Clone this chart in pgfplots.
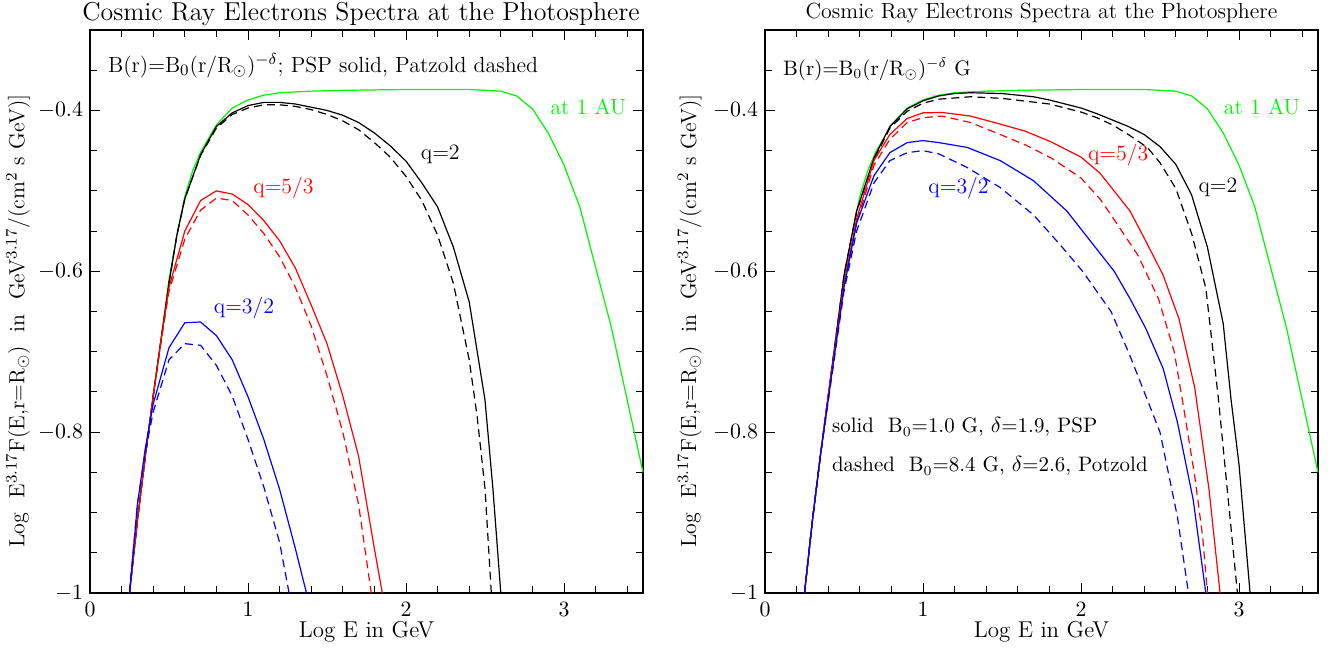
\documentclass[border=0pt]{standalone}
\usepackage{fontspec}
\usepackage{pgfplots}
\pgfplotsset{compat=1.18}
\definecolor{cgreen}{RGB}{0,245,0}
\definecolor{cred}{RGB}{255,0,0}
\definecolor{cblue}{RGB}{0,0,255}
\newcommand{\fs}[1]{\fontsize{#1}{#1}\selectfont}
\pgfplotsset{
  panel/.style={
    scale only axis, width=276.5bp, height=281.5bp,
    anchor=south west,
    xmin=0, xmax=3.5, ymin=-1, ymax=-0.3,
    xtick={0,1,2,3}, ytick={-1,-0.8,-0.6,-0.4},
    minor xtick={0,0.2,...,3.4},
    minor ytick={-1,-0.95,...,-0.3},
    tick align=inside, major tick length=5bp, minor tick length=3.5bp,
    every tick/.style={black, line width=0.5bp},
    axis line style={line width=0.9bp},
    tick label style={font=\fs{10.5}},
    xticklabel style={yshift=-1bp},
    xlabel={Log E in GeV},
    xlabel style={font=\fs{11.5}, at={(axis description cs:0.5,-0.069)}, anchor=center},
    ylabel style={font=\fs{11}, at={(axis description cs:-0.13,0.483)}, anchor=center, rotate=0},
    clip=false,
  },
  sol/.style={line width=0.6bp},
  das/.style={line width=0.6bp, dash pattern=on 4bp off 2.5bp},
}
\newcommand{\ylab}{Log\ \ E$^{3.17}$F(E,r=R$_\odot$)\ \ in\ \ GeV$^{3.17}$/(cm$^2$\ s\ GeV)]}
\newcommand{\green}{\addplot[cgreen, sol] coordinates {
 (0.25,-1)(0.3,-0.91)(0.35,-0.83)(0.4,-0.755)(0.45,-0.683)(0.5,-0.61)(0.55,-0.555)
 (0.6,-0.507)(0.65,-0.475)(0.7,-0.452)(0.8,-0.418)(0.9,-0.397)(1.0,-0.387)(1.1,-0.381)
 (1.2,-0.378)(1.4,-0.376)(1.6,-0.375)(2.0,-0.374)(2.4,-0.374)(2.6,-0.376)(2.7,-0.382)
 (2.8,-0.398)(2.9,-0.428)(3.0,-0.468)(3.1,-0.52)(3.2,-0.595)(3.3,-0.67)(3.4,-0.76)(3.5,-0.85)};}

\begin{document}
\begin{tikzpicture}
\useasboundingbox (0,0) rectangle (669bp,325bp);

% ---------------- left panel
\begin{axis}[panel, at={(45bp,28.5bp)}, ylabel={\ylab}]
\green
% q=2
\addplot[black, sol] coordinates {
 (0.25,-1)(0.3,-0.91)(0.35,-0.83)(0.4,-0.755)(0.45,-0.685)(0.5,-0.615)(0.55,-0.555)
 (0.6,-0.51)(0.7,-0.455)(0.8,-0.42)(0.9,-0.403)(1.0,-0.394)(1.1,-0.39)(1.2,-0.39)
 (1.3,-0.392)(1.4,-0.396)(1.5,-0.40)(1.6,-0.406)(1.7,-0.415)(1.8,-0.428)(1.9,-0.444)
 (2.0,-0.463)(2.1,-0.49)(2.2,-0.52)(2.3,-0.57)(2.4,-0.638)(2.5,-0.76)(2.55,-0.87)(2.6,-1.0)};
\addplot[black, das] coordinates {
 (0.25,-1)(0.3,-0.91)(0.35,-0.83)(0.4,-0.755)(0.45,-0.685)(0.5,-0.615)(0.55,-0.555)
 (0.6,-0.51)(0.7,-0.456)(0.8,-0.422)(0.9,-0.405)(1.0,-0.397)(1.1,-0.393)(1.2,-0.393)
 (1.3,-0.395)(1.4,-0.399)(1.5,-0.405)(1.6,-0.413)(1.7,-0.424)(1.8,-0.44)(1.9,-0.458)
 (2.0,-0.482)(2.1,-0.512)(2.2,-0.555)(2.3,-0.615)(2.4,-0.71)(2.45,-0.78)(2.5,-0.87)(2.54,-1.0)};
% q=5/3
\addplot[cred, sol] coordinates {
 (0.25,-1)(0.3,-0.91)(0.35,-0.83)(0.4,-0.755)(0.45,-0.685)(0.5,-0.62)(0.6,-0.55)
 (0.7,-0.512)(0.8,-0.50)(0.9,-0.504)(1.0,-0.517)(1.1,-0.537)(1.2,-0.562)(1.3,-0.596)
 (1.4,-0.642)(1.5,-0.69)(1.6,-0.755)(1.7,-0.83)(1.8,-0.945)(1.85,-1.0)};
\addplot[cred, das] coordinates {
 (0.25,-1)(0.3,-0.91)(0.35,-0.83)(0.4,-0.755)(0.45,-0.687)(0.5,-0.625)(0.6,-0.56)
 (0.7,-0.524)(0.8,-0.509)(0.9,-0.512)(1.0,-0.53)(1.1,-0.553)(1.2,-0.582)(1.3,-0.62)
 (1.4,-0.668)(1.5,-0.73)(1.6,-0.80)(1.7,-0.89)(1.78,-1.0)};
% q=3/2
\addplot[cblue, sol] coordinates {
 (0.25,-1)(0.3,-0.89)(0.35,-0.82)(0.4,-0.765)(0.5,-0.695)(0.6,-0.664)(0.7,-0.663)
 (0.8,-0.68)(0.9,-0.71)(1.0,-0.756)(1.1,-0.809)(1.2,-0.871)(1.3,-0.945)(1.37,-1.0)};
\addplot[cblue, das] coordinates {
 (0.25,-1)(0.3,-0.89)(0.35,-0.825)(0.4,-0.775)(0.5,-0.71)(0.6,-0.69)(0.7,-0.692)
 (0.8,-0.717)(0.9,-0.755)(1.0,-0.809)(1.1,-0.868)(1.2,-0.937)(1.26,-1.0)};

\node[anchor=base, inner sep=0pt, font=\fs{13}] at ([yshift=5bp]axis description cs:0.49,1)
  {Cosmic Ray Electrons Spectra at the Photosphere};
\node[anchor=west, font=\fs{11}] at (axis cs:0.07,-0.344)
  {B(r)=B$_0$(r/R$_\odot$)$^{-\delta}$; PSP solid, Patzold dashed};
\node[anchor=west, font=\fs{11}, text=cgreen] at (axis cs:2.87,-0.396) {at 1 AU};
\node[anchor=west, font=\fs{11}] at (axis cs:2.05,-0.455) {q=2};
\node[anchor=west, font=\fs{11}, text=cred] at (axis cs:0.99,-0.496) {q=5/3};
\node[anchor=west, font=\fs{11}, text=cblue] at (axis cs:0.74,-0.646) {q=3/2};
\end{axis}

% ---------------- right panel
\begin{axis}[panel, at={(382.5bp,28.5bp)},
  ylabel style={at={(axis description cs:-0.136,0.483)}},
  ylabel={\ylab}]
\green
% q=2
\addplot[black, sol] coordinates {
 (0.25,-1)(0.3,-0.91)(0.35,-0.83)(0.4,-0.755)(0.45,-0.68)(0.5,-0.605)(0.58,-0.525)
 (0.69,-0.459)(0.79,-0.42)(0.9,-0.398)(1.0,-0.388)(1.1,-0.382)(1.2,-0.379)(1.3,-0.378)
 (1.5,-0.379)(1.7,-0.383)(1.8,-0.387)(2.0,-0.397)(2.1,-0.404)(2.2,-0.412)(2.3,-0.42)
 (2.4,-0.43)(2.5,-0.445)(2.6,-0.467)(2.7,-0.505)(2.8,-0.57)(2.9,-0.665)(2.95,-0.76)
 (3.0,-0.84)(3.07,-1.0)};
\addplot[black, das] coordinates {
 (0.25,-1)(0.3,-0.91)(0.35,-0.83)(0.4,-0.755)(0.45,-0.68)(0.5,-0.605)(0.58,-0.526)
 (0.69,-0.461)(0.79,-0.422)(0.9,-0.401)(1.0,-0.391)(1.1,-0.386)(1.3,-0.383)(1.5,-0.385)
 (1.8,-0.392)(2.0,-0.402)(2.1,-0.409)(2.2,-0.418)(2.3,-0.43)(2.42,-0.446)(2.5,-0.465)
 (2.6,-0.497)(2.7,-0.553)(2.79,-0.621)(2.87,-0.759)(2.93,-0.88)(2.99,-1.0)};
% q=5/3
\addplot[cred, sol] coordinates {
 (0.25,-1)(0.3,-0.91)(0.35,-0.83)(0.4,-0.755)(0.45,-0.685)(0.5,-0.615)(0.58,-0.535)
 (0.69,-0.462)(0.79,-0.43)(0.9,-0.41)(1.0,-0.403)(1.12,-0.4025)(1.3,-0.407)(1.49,-0.417)
 (1.65,-0.426)(1.81,-0.439)(2.0,-0.458)(2.12,-0.478)(2.31,-0.525)(2.41,-0.5625)
 (2.52,-0.605)(2.62,-0.659)(2.72,-0.745)(2.81,-0.871)(2.88,-1.0)};
\addplot[cred, das] coordinates {
 (0.25,-1)(0.3,-0.91)(0.35,-0.83)(0.4,-0.755)(0.45,-0.686)(0.5,-0.618)(0.58,-0.54)
 (0.69,-0.468)(0.79,-0.436)(0.9,-0.415)(1.0,-0.409)(1.12,-0.407)(1.3,-0.415)(1.49,-0.43)
 (1.65,-0.443)(1.81,-0.459)(2.0,-0.484)(2.12,-0.51)(2.19,-0.53)(2.36,-0.58)(2.49,-0.634)
 (2.59,-0.70)(2.65,-0.77)(2.72,-0.855)(2.77,-0.93)(2.80,-1.0)};
% q=3/2
\addplot[cblue, sol] coordinates {
 (0.25,-1)(0.3,-0.91)(0.35,-0.83)(0.4,-0.76)(0.45,-0.69)(0.5,-0.62)(0.58,-0.54)
 (0.69,-0.481)(0.79,-0.4525)(0.9,-0.44)(1.0,-0.4375)(1.1,-0.44)(1.28,-0.446)(1.49,-0.4625)
 (1.7,-0.4875)(1.91,-0.525)(2.08,-0.5675)(2.21,-0.60)(2.31,-0.634)(2.41,-0.671)
 (2.52,-0.721)(2.61,-0.7875)(2.71,-0.884)(2.79,-1.0)};
\addplot[cblue, das] coordinates {
 (0.25,-1)(0.3,-0.91)(0.35,-0.83)(0.4,-0.762)(0.45,-0.693)(0.5,-0.625)(0.58,-0.55)
 (0.69,-0.49)(0.79,-0.4625)(0.9,-0.4525)(1.0,-0.45)(1.1,-0.454)(1.28,-0.471)(1.49,-0.496)
 (1.7,-0.53)(1.87,-0.5675)(2.01,-0.60)(2.19,-0.65)(2.31,-0.705)(2.41,-0.755)(2.5,-0.80)
 (2.61,-0.905)(2.68,-1.0)};

\node[anchor=base, inner sep=0pt, font=\fs{11}] at ([yshift=6bp]axis description cs:0.5,1)
  {Cosmic Ray Electrons Spectra at the Photosphere};
\node[anchor=west, font=\fs{10.5}] at (axis cs:0.07,-0.349)
  {B(r)=B$_0$(r/R$_\odot$)$^{-\delta}$ G};
\node[anchor=west, font=\fs{11}, text=cgreen] at (axis cs:2.86,-0.396) {at 1 AU};
\node[anchor=west, font=\fs{11}, text=cred] at (axis cs:2.0,-0.455) {q=5/3};
\node[anchor=west, font=\fs{11}] at (axis cs:2.70,-0.496) {q=2};
\node[anchor=west, font=\fs{11}, text=cblue] at (axis cs:0.99,-0.496) {q=3/2};
\node[anchor=west, font=\fs{10.5}] at (axis cs:0.38,-0.794)
  {solid\ \ B$_0$=1.0 G, $\delta$=1.9, PSP};
\node[anchor=west, font=\fs{10.5}] at (axis cs:0.38,-0.8425)
  {dashed\ \ B$_0$=8.4 G, $\delta$=2.6, Potzold};
\end{axis}
\end{tikzpicture}
\end{document}
